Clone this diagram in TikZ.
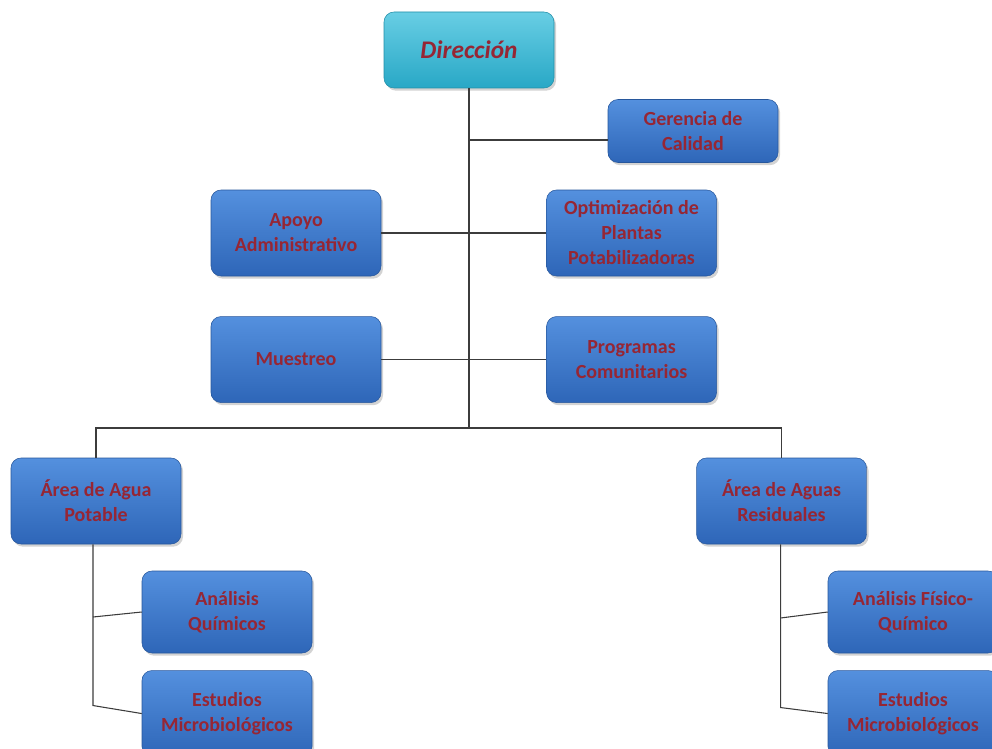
\documentclass[tikz,border=0pt]{standalone}
\usepackage{fontspec}
\setmainfont{Carlito}
\usetikzlibrary{positioning,calc,shadows}
\definecolor{boxtop}{RGB}{84,144,222}
\definecolor{boxbot}{RGB}{46,102,184}
\definecolor{headtop}{RGB}{104,206,228}
\definecolor{headbot}{RGB}{40,168,198}
\definecolor{labelred}{RGB}{150,38,52}
\definecolor{wire}{RGB}{60,60,60}

\begin{document}
\begin{tikzpicture}[x=0.75pt, y=-0.75pt,
  node distance=30pt and 123.75pt,
  unit/.style={rounded corners=7.5pt, top color=boxtop, bottom color=boxbot, draw=boxbot!85!black, line width=0.4pt,
    drop shadow={shadow xshift=1.5pt, shadow yshift=-2pt, opacity=0.35},
    minimum width=127.5pt, minimum height=64.5pt, align=center, inner sep=2pt,
    font=\bfseries\fontsize{15}{18.75}\selectfont, text=labelred},
  head/.style={unit, top color=headtop, bottom color=headbot, draw=headbot!85!black, minimum height=57pt,
    font=\bfseries\itshape\fontsize{19}{22}\selectfont},
  wire/.style={draw=wire, line width=0.8pt}]
  \clip (0,0) rectangle (992,749);
  \node[head] (dir) at (469,50) {Dirección};
  \node[unit, minimum height=47.25pt] (ger) at (693,131) {Gerencia de\\Calidad};
  \node[unit] (apoyo) at (296,233) {Apoyo\\Administrativo};
  \node[unit, right=of apoyo] (optim) {Optimización de\\Plantas\\Potabilizadoras};
  \node[unit, below=of apoyo] (muestreo) {Muestreo};
  \node[unit, below=of optim] (progr) {Programas\\Comunitarios};
  \node[unit] (potable) at (96,501) {Área de Agua\\Potable};
  \node[unit, right=386.25pt of potable] (residual) {Área de Aguas\\Residuales};
  \node[unit, minimum height=61.5pt] (quimicos) at (227,612) {Análisis\\Químicos};
  \node[unit, below=12.75pt of quimicos] (micro1) {Estudios\\Microbiológicos};
  \node[unit, minimum height=61.5pt] (fisico) at (913,612) {Análisis Físico-\\Químico};
  \node[unit, below=12.75pt of fisico] (micro2) {Estudios\\Microbiológicos};
  % trunk and side branches
  \coordinate (bus) at (470,428);
  \coordinate (gerin) at ([yshift=-6.75pt]ger.west);
  \draw[wire] (dir.south) -- (dir.south |- bus);
  \draw[wire] (dir.south |- gerin) -- (gerin);
  \draw[wire] (apoyo) -- (optim);
  \draw[wire] (muestreo) -- (progr);
  \draw[wire] (potable.north) -- (potable.north |- bus) -- (residual.north |- bus) -- (residual.north);
  % lower branches
  \coordinate (ljoin1) at ($(potable.south |- quimicos.west)+(-3,5)$);
  \coordinate (ljoin2) at ($(potable.south |- micro1.west)+(-3,-8)$);
  \draw[wire] (potable.south -| ljoin1) -- (ljoin2) -- (micro1.west);
  \draw[wire] (ljoin1) -- (quimicos.west);
  \coordinate (rjoin1) at ($(residual.south |- fisico.west)+(-1,6)$);
  \coordinate (rjoin2) at ($(residual.south |- micro2.west)+(-1,-6)$);
  \draw[wire] (residual.south -| rjoin1) -- (rjoin2) -- (micro2.west);
  \draw[wire] (rjoin1) -- (fisico.west);
\end{tikzpicture}
\end{document}
